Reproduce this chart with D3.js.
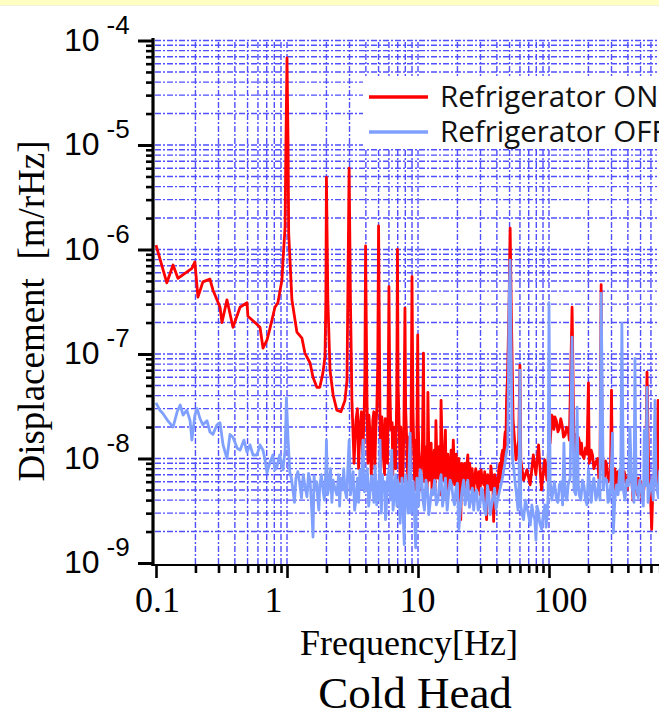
<!DOCTYPE html>
<html><head><meta charset="utf-8">
<script src="https://cdn.jsdelivr.net/npm/d3@7"></script>
<style>body{margin:0;background:#fff;} svg{display:block;}</style>
</head><body>
<svg id="c" width="659" height="718"></svg>
<script>
// ---- data (frequency [Hz], displacement [m/rHz]) ----
const refrigeratorOn = [
[0.1,1.1e-6],[0.121,4.8e-7],[0.135,7.1e-7],[0.147,5.3e-7],[0.188,6.6e-7],[0.198,7.6e-7],
[0.209,3.5e-7],[0.228,4.9e-7],[0.258,5.2e-7],[0.272,4.1e-7],[0.292,3.3e-7],[0.308,2.8e-7],
[0.319,2.0e-7],[0.348,3.3e-7],[0.387,1.8e-7],[0.438,2.8e-7],[0.495,3.1e-7],[0.503,2.3e-7],
[0.569,2.0e-7],[0.622,1.8e-7],[0.656,1.14e-7],[0.703,1.36e-7],[0.742,1.77e-7],[0.809,2.8e-7],
[0.852,3.1e-7],[0.915,5.1e-7],[0.932,7.9e-7],[0.967,1.64e-6],[0.98,8.9e-6],[1.0,6.8e-5],
[1.02,8.9e-6],[1.03,1.44e-6],[1.09,3.3e-7],[1.19,1.62e-7],[1.30,1.42e-7],[1.37,1.02e-7],
[1.50,8.2e-8],[1.58,6.0e-8],[1.69,4.8e-8],[1.78,4.8e-8],[1.88,6.6e-8],[1.95,9.4e-8],
[1.98,3.3e-7],[2.0,4.9e-6],[2.05,3.3e-7],[2.13,7.0e-8],[2.25,4.05e-8],[2.40,2.9e-8],
[2.58,2.8e-8],[2.77,3.6e-8],[2.87,5.6e-8],[2.98,6.0e-6],[3.05,3.3e-7],[3.13,3.6e-8],
[3.36,2.33e-8],[3.6,1.96e-8],[3.87,2.33e-8],[3.98,1.08e-6],[4.08,3.6e-8],[4.29,1.87e-8],
[4.52,2.33e-8],[4.76,1.87e-8],[5.0,1.68e-6],[5.13,2.33e-8],[5.42,1.5e-8],[5.72,2.09e-8],
[6.0,4.4e-7],[6.2,1.87e-8],[6.5,1.5e-8],[6.97,1.0e-6],[7.2,1.87e-8],[7.5,1.35e-8],
[7.95,2.75e-7],[8.2,1.5e-8],[8.6,1.2e-8],[9.0,5.5e-7],[9.3,1.2e-8],[9.95,1.52e-7],
[10.2,1.08e-8],[10.6,7.8e-9],[11.0,1.02e-7],[11.4,7.8e-9],[11.9,4.3e-8],[12.3,6.2e-9],
[13.0,7.0e-9],[13.7,2.3e-8],[14.2,6.5e-9],[15.0,3.6e-8],[15.6,6.2e-9],[16.2,1.87e-8],
[16.7,4.0e-9],[17.6,7.8e-9],[18.6,1.5e-8],[19.2,5.6e-9],[20.1,9.7e-9],[21.2,2.6e-9],
[22.0,8.7e-9],[23.2,6.2e-9],[24.0,1.08e-8],[25.4,5.2e-9],[27.1,6.5e-9],[28.7,5.0e-9],
[30.3,7.8e-9],[31.8,5.6e-9],[33.4,2.6e-9],[34.8,6.2e-9],[36.5,7.0e-9],[37.8,2.5e-9],
[39.3,5.2e-9],[41.3,7.8e-9],[43.5,1.08e-8],[45.7,1.5e-8],[47.4,3.6e-8],[49.6,3.3e-7],
[50.5,1.6e-6],[51.4,3.3e-7],[53.2,2.33e-8],[56,9.7e-9],[58.7,1.5e-8],[60,7.8e-8],
[60.9,9.7e-9],[64,6.2e-9],[67.9,7.8e-9],[71.8,5.6e-9],[75.9,1.08e-8],[79.4,7.0e-9],
[83.2,1.35e-8],[87.6,5.0e-9],[92.7,9.7e-9],[96.6,6.2e-9],[100,1.5e-8],[104,2.09e-8],
[107.6,2.44e-8],[114,2.27e-8],[120,1.96e-8],[126,2.09e-8],[133,1.68e-8],[140,1.87e-8],
[150,2.8e-7],[155,1.5e-8],[164,1.35e-8],[170,1.5e-8],[180,1.08e-8],[190,1.26e-8],
[200,5.3e-8],[206,9.7e-9],[215,1.08e-8],[228,9.2e-9],[245,7.8e-9],[250,4.6e-7],
[260,7.8e-9],[276,8.7e-9],[290,6.5e-9],[300,4.5e-8],[310,7.8e-9],[328,6.2e-9],
[346,7.0e-9],[365,5.6e-9],[385,6.5e-9],[417,6.0e-9],[438,4.0e-9],[460,6.2e-9],
[493,5.2e-9],[513,4.0e-9],[534,5.6e-9],[560,6.7e-8],[580,5.0e-9],[608,2.1e-9],
[640,7.8e-9],[680,3.6e-8],[700,6.0e-9]
];
// finer structure of the ON spectrum between the main lines
const refrigeratorOnDetail = [
[3.25,9e-9],[3.45,3.0e-8],[3.52,8e-9],[3.7,2.8e-8],[3.78,1.0e-8],[3.93,6e-8],
[4.15,9e-9],[4.22,2.6e-8],[4.4,7e-9],[4.6,2.8e-8],[4.68,8e-9],[4.85,3e-8],[4.93,8e-8],
[5.2,8e-9],[5.3,2.5e-8],[5.55,7e-9],[5.62,2.4e-8],[5.85,9e-9],[5.93,5e-8],[6.08,6e-8],
[6.35,2.2e-8],[6.42,7e-9],[6.65,2.0e-8],[6.75,8e-9],[6.88,4e-8],[7.05,5e-8],[7.3,6e-9],
[7.4,2.0e-8],[7.65,6e-9],[7.8,1.8e-8],[8.05,3e-8],[8.35,6e-9],[8.45,1.6e-8],[8.75,6e-9],
[8.85,2e-8],[9.15,3e-8],[9.45,5e-9],[9.6,1.5e-8],[9.75,6e-9],[10.05,2e-8],[10.4,5e-9],
[10.8,1.2e-8],[11.2,6e-9],[11.6,1.3e-8],[11.75,5e-9],[12.1,1.1e-8],[12.6,1.4e-8],[12.8,4.5e-9],
[13.3,1.2e-8],[13.5,5e-9],[13.9,1.1e-8],[14.5,1.3e-8],[14.8,4.5e-9],[15.3,1.2e-8],[15.9,1.0e-8],
[16.4,5e-9],[16.9,1.1e-8],[17.2,5e-9],[17.9,1.2e-8],[18.2,5.5e-9],[18.9,8e-9],[19.6,1.1e-8],
[19.9,4e-9],[20.5,1.0e-8],[20.8,5e-9],[21.6,9e-9],[22.5,4.5e-9],[22.8,9e-9],[23.6,8.5e-9],
[24.4,5e-9],[24.8,9e-9],[25.9,8e-9],[26.5,4.5e-9],[27.6,8e-9],[28.2,6e-9],[29.2,7.5e-9],
[29.8,4.5e-9],[30.8,6.5e-9],[32.3,7.5e-9],[32.8,4e-9],[34.0,7e-9],[35.5,5e-9],[36.0,8.5e-9],
[37.2,6e-9],[38.5,7e-9],[40.0,6.5e-9],[40.6,4.5e-9],[42.2,9e-9],[42.8,6e-9],[44.3,1.2e-8],
[44.8,8e-9],[46.3,1.8e-8],[46.8,1.2e-8],[48.2,6e-8],[48.8,1.2e-7],
[102,1.4e-8],[105,2.6e-8],[109,1.9e-8],[111,2.5e-8],[117,1.8e-8],[123,2.4e-8],[129,1.6e-8],
[136,2.0e-8],[143,1.5e-8],[158,1.7e-8],[161,1.1e-8],[167,1.6e-8],[174,1.1e-8],[177,1.4e-8],
[185,1.0e-8],[195,1.1e-8],[203,9e-9],[210,1.2e-8],[220,8e-9],[235,1.0e-8],[240,6.5e-9],
[255,9e-9],[265,6.5e-9],[270,9.5e-9],[283,6e-9],[295,8e-9],[305,6e-9],[318,8e-9],[322,5e-9],
[335,7.5e-9],[340,5e-9],[355,7e-9],[375,7.5e-9],[395,5e-9],[405,7e-9],[428,6.5e-9],
[448,6.8e-9],[470,4.5e-9],[480,6.5e-9],[503,6e-9],[524,4.5e-9],[545,6e-9],[590,6e-9],
[620,5e-9],[660,5.5e-9]
];
const refrigeratorOff = [
[0.1,3.4e-8],[0.107,2.9e-8],[0.113,2.7e-8],[0.123,2.3e-8],[0.135,2.0e-8],[0.145,2.8e-8],
[0.153,3.25e-8],[0.161,2.6e-8],[0.172,2.9e-8],[0.182,2.3e-8],[0.188,1.5e-8],[0.198,2.6e-8],
[0.206,3.0e-8],[0.217,2.4e-8],[0.228,2.1e-8],[0.245,2.3e-8],[0.258,1.8e-8],[0.272,1.7e-8],
[0.292,2.1e-8],[0.308,2.2e-8],[0.325,1.35e-8],[0.348,1.0e-8],[0.367,1.7e-8],[0.387,1.6e-8],
[0.416,1.26e-8],[0.438,1.2e-8],[0.469,1.5e-8],[0.495,1.15e-8],[0.522,1.35e-8],[0.55,1.08e-8],
[0.59,1.08e-8],[0.622,1.35e-8],[0.656,1.2e-8],[0.68,9.7e-9],[0.703,7.3e-9],[0.742,9.2e-9],
[0.78,1.08e-8],[0.81,7.8e-9],[0.837,8.3e-9],[0.88,1.08e-8],[0.93,7.8e-9],[0.967,1.2e-8],
[0.99,3.8e-8],[1.02,1.5e-8],[1.05,7.4e-9],[1.11,5.0e-9],[1.17,6.5e-9],[1.25,5.8e-9],
[1.33,7.0e-9],[1.42,4.3e-9],[1.50,6.2e-9],[1.58,1.77e-9],[1.64,5.0e-9],[1.72,4.0e-9],
[1.78,5.6e-9],[1.88,5.0e-9],[1.98,7.8e-9],[2.0,1.5e-8],[2.09,5.3e-9],[2.25,6.2e-9],
[2.40,4.5e-9],[2.58,6.5e-9],[2.77,5.0e-9],[2.98,1.5e-8],[3.13,5.6e-9],[3.36,4.0e-9],
[3.6,7.8e-9],[3.8,1.5e-8],[4.0,5.6e-9],[4.29,4.5e-9],[4.52,6.2e-9],[4.84,3.6e-9],
[5.13,1.5e-8],[5.42,5.0e-9],[5.72,3.2e-9],[6.0,7.8e-9],[6.3,1.2e-8],[6.6,4.5e-9],
[7.0,6.2e-9],[7.4,4.0e-9],[7.85,1.5e-9],[8.2,4.5e-9],[8.7,1.75e-8],[9.0,3.6e-9],
[9.6,1.4e-9],[9.9,5.6e-9],[10.4,7.8e-9],[10.9,4.0e-9],[11.5,6.2e-9],[12.1,2.9e-9],
[12.7,5.0e-9],[13.4,6.2e-9],[14.2,4.0e-9],[15.0,7.0e-9],[15.8,4.5e-9],[16.7,3.2e-9],
[17.6,6.2e-9],[18.6,4.0e-9],[19.5,5.2e-9],[20.5,2.1e-9],[21.7,5.0e-9],[22.9,3.6e-9],
[24.0,6.2e-9],[25.4,4.2e-9],[26.6,3.2e-9],[28.0,5.0e-9],[29.7,3.6e-9],[31.2,4.8e-9],
[33.0,2.9e-9],[34.8,4.5e-9],[36.5,3.6e-9],[38.4,5.2e-9],[40.5,4.0e-9],[43.0,5.6e-9],
[45.2,7.8e-9],[47.0,1.08e-8],[48.5,1.35e-8],[49.6,3.3e-7],[50.5,7.9e-7],[51.4,1.09e-7],
[52.4,1.2e-8],[54.0,7.8e-9],[56,5.0e-9],[58,3.2e-9],[60,7.0e-8],[60.9,3.6e-9],
[64,2.6e-9],[68,3.4e-9],[72,2.3e-9],[76,2.9e-9],[79.5,1.66e-9],[83,3.1e-9],
[88,2.1e-9],[93,3.6e-9],[97,2.9e-9],[100,3.1e-7],[102,6.2e-9],[107.6,5.0e-9],
[114,4.0e-9],[120,5.6e-9],[130,1.4e-8],[133,4.5e-9],[140,5.6e-9],[150,1.45e-7],
[155,5.0e-9],[164,3.1e-8],[170,4.5e-9],[180,6.2e-9],[190,4.0e-9],[200,7.8e-9],
[206,5.0e-9],[215,5.6e-9],[228,4.0e-9],[240,6.2e-9],[250,3.8e-7],[260,5.0e-9],
[276,6.2e-9],[290,4.0e-9],[305,1.75e-8],[310,1.94e-9],[328,5.6e-9],[346,7.8e-9],
[360,1.98e-7],[370,5.0e-9],[393,6.2e-9],[415,2.0e-8],[438,4.5e-9],[453,9.1e-8],
[470,5.0e-9],[493,6.2e-9],[517,4.0e-9],[534,1.87e-8],[560,4.8e-8],[580,4.5e-9],
[608,6.2e-9],[644,3.6e-8],[668,5.0e-9],[700,7.8e-9]
];
// finer structure of the OFF spectrum (noise floor)
const refrigeratorOffDetail = [
[1.08,6.5e-9],[1.14,3.8e-9],[1.21,7.5e-9],[1.29,4.2e-9],[1.37,5.5e-9],[1.46,7.2e-9],[1.54,3.5e-9],
[1.61,6.8e-9],[1.68,6e-9],[1.75,3.2e-9],[1.83,7e-9],[1.93,4e-9],[2.04,4.5e-9],[2.15,8e-9],
[2.2,3.8e-9],[2.32,5.2e-9],[2.48,7e-9],[2.52,3.5e-9],[2.66,5e-9],[2.71,8e-9],[2.85,4.2e-9],
[3.05,4.5e-9],[3.2,7.5e-9],[3.28,3.2e-9],[3.45,6.5e-9],[3.52,3.8e-9],[3.7,5.2e-9],[3.9,4.8e-9],
[4.1,8e-9],[4.2,3.5e-9],[4.4,6.8e-9],[4.6,3.8e-9],[4.7,8.5e-9],[4.95,6e-9],[5.05,4e-9],
[5.25,3e-9],[5.35,7e-9],[5.55,6e-9],[5.65,2.6e-9],[5.85,6.5e-9],[6.15,4e-9],[6.45,3.2e-9],
[6.75,7e-9],[6.9,3.5e-9],[7.15,5.5e-9],[7.3,2.4e-9],[7.55,6.5e-9],[7.7,3e-9],[8.0,7e-9],
[8.4,3e-9],[8.5,6.5e-9],[8.85,3e-9],[9.2,6e-9],[9.45,2.5e-9],[9.8,6.5e-9],[10.1,3.5e-9],
[10.7,6.5e-9],[11.2,3.2e-9],[11.8,5.2e-9],[12.4,3.8e-9],[13.0,4.5e-9],[13.8,3.6e-9],[14.6,5.8e-9],
[15.4,3.5e-9],[16.2,6.5e-9],[17.1,4.5e-9],[18.1,5.5e-9],[19.0,3.6e-9],[20.0,5.8e-9],[21.1,3.4e-9],
[22.3,6.2e-9],[23.5,4.5e-9],[24.7,3.4e-9],[26.0,5.2e-9],[27.3,4.6e-9],[28.8,3.2e-9],[30.5,5.2e-9],
[32.0,3.3e-9],[33.9,5.5e-9],[35.6,2.9e-9],[37.4,4.2e-9],[39.4,3.3e-9],[41.8,4.8e-9],[44.1,6.5e-9],
[46.1,9e-9],[53,9e-9],[55,6e-9],[57,4e-9],[59,5e-9],[62,3e-9],[66,4e-9],[70,2.8e-9],[74,3.6e-9],
[78,2.6e-9],[81,3.5e-9],[85,2.4e-9],[90,2.8e-9],[95,2.2e-9],[98.5,4.5e-9],[105,4e-9],[110,6e-9],
[117,3.8e-9],[124,6e-9],[127,3.6e-9],[137,4e-9],[145,6.5e-9],[160,4.5e-9],[167,6e-9],[175,4e-9],
[185,5.5e-9],[195,3.6e-9],[210,3.8e-9],[220,6.5e-9],[233,4.5e-9],[245,4e-9],[265,6.5e-9],
[282,3.8e-9],[297,6e-9],[318,4e-9],[337,4.5e-9],[352,5e-9],[380,4e-9],[404,5.5e-9],[426,6e-9],
[445,3.8e-9],[462,5.6e-9],[480,4.2e-9],[505,5.2e-9],[525,3.5e-9],[548,5.5e-9],[570,3.8e-9],
[595,5.5e-9],[625,4e-9],[655,6e-9],[685,4.2e-9]
];
const seriesNames = ["Refrigerator ON", "Refrigerator OFF"];
const seriesColors = ["#ff0000", "#80a0ff"];
const xTickValues = [0.1, 1, 10, 100];
const xTickLabels = ["0.1", "1", "10", "100"];
const yTickValues = [1e-4, 1e-5, 1e-6, 1e-7, 1e-8, 1e-9];
const yTickExponents = ["-4", "-5", "-6", "-7", "-8", "-9"];
const xTitle = "Frequency[Hz]";
const yTitle = "Displacement  [m/rHz]";
const caption = "Cold Head";

const series = [
  refrigeratorOn.concat(refrigeratorOnDetail).sort((a, b) => a[0] - b[0]),
  refrigeratorOff.concat(refrigeratorOffDetail).sort((a, b) => a[0] - b[0])
];

// ---- layout ----
const svg = d3.select("#c");
const x = d3.scaleLog().domain([0.1, 1000]).range([156, 680]);
const y = d3.scaleLog().domain([1e-9, 1e-4]).range([563, 40.5]);
const axisX = 153, axisY = 565;

svg.append("rect").attr("x",0).attr("y",0).attr("width",659).attr("height",5).attr("fill","#ffffc4");
svg.append("line").attr("x1",0).attr("x2",659).attr("y1",5.5).attr("y2",5.5).attr("stroke","#f2f2d8").attr("stroke-width",1);

svg.append("defs").append("clipPath").attr("id","plot")
  .append("rect").attr("x",axisX+1).attr("y",38).attr("width",520).attr("height",axisY-38);

// grid
const grid = svg.append("g").attr("stroke","#5050ff").attr("stroke-width",1.4)
  .attr("stroke-dasharray","6,2,2,2").attr("fill","none");
const gx = x.ticks().filter(v => v > 0.1 && v <= 1000);
const gy = y.ticks().filter(v => v > 1e-9 && v <= 1e-4 * 1.0001);
grid.selectAll("line.v").data(gx).join("line").attr("class","v")
  .attr("x1", d => x(d)).attr("x2", d => x(d)).attr("y1", 42).attr("y2", axisY);
grid.selectAll("line.h").data(gy).join("line").attr("class","h")
  .attr("y1", d => y(d)).attr("y2", d => y(d)).attr("x1", axisX + 2).attr("x2", 680);

// legend box (covers grid)
svg.append("rect").attr("x",363).attr("y",77).attr("width",300).attr("height",71).attr("fill","#fff");

// series
const line = d3.line().x(d => x(d[0])).y(d => y(d[1]));
const plot = svg.append("g").attr("clip-path","url(#plot)");
series.forEach((s, i) => {
  plot.append("path").datum(s).attr("d", line).attr("fill","none")
    .attr("stroke", seriesColors[i]).attr("stroke-width", 2.8).attr("stroke-linejoin","round");
});

// legend
const lg = svg.append("g");
seriesNames.forEach((n, i) => {
  const yy = 97 + i * 35;
  lg.append("line").attr("x1",369).attr("x2",428).attr("y1",yy).attr("y2",yy)
    .attr("stroke", seriesColors[i]).attr("stroke-width",3.5);
  lg.append("text").attr("x",440).attr("y",yy + 10).text(n)
    .attr("font-family","'Open Sans', 'Noto Sans', sans-serif").attr("font-size",29.5).attr("fill","#111");
});

// x axis
const xMinor = x.ticks().filter(v => !xTickValues.includes(v) && v < 1000);
const gxa = svg.append("g").attr("transform",`translate(0,${axisY})`);
gxa.call(d3.axisBottom(x).tickValues(xMinor).tickSize(8).tickSizeOuter(0).tickFormat(""));
gxa.select(".domain").remove();
gxa.selectAll(".tick line").attr("stroke","#000").attr("stroke-width",2.6);
const gxb = svg.append("g").attr("transform",`translate(0,${axisY})`);
const xLabelShift = [1, -14, -1, 11];
gxb.call(d3.axisBottom(x).tickValues(xTickValues).tickSize(13).tickSizeOuter(0)
  .tickFormat((d, i) => xTickLabels[i]));
gxb.select(".domain").remove();
gxb.selectAll(".tick line").attr("stroke","#000").attr("stroke-width",2.6);
gxb.selectAll(".tick text").attr("fill","#000").attr("font-family","'Liberation Serif', 'Times New Roman', serif")
  .attr("font-size",36).attr("dy",0).attr("y",47).attr("dx",(d,i)=>xLabelShift[i]);
svg.append("line").attr("x1",axisX-1.5).attr("x2",680).attr("y1",axisY).attr("y2",axisY)
  .attr("stroke","#000").attr("stroke-width",2.2);

// y axis
const yMinor = y.ticks().filter(v => !yTickValues.some(t => Math.abs(t - v) / t < 1e-6));
const gya = svg.append("g").attr("transform",`translate(${axisX},0)`);
gya.call(d3.axisLeft(y).tickValues(yMinor).tickSize(7).tickSizeOuter(0).tickFormat(""));
gya.select(".domain").remove();
gya.selectAll(".tick line").attr("stroke","#000").attr("stroke-width",2.6);
const gyb = svg.append("g").attr("transform",`translate(${axisX},0)`);
gyb.call(d3.axisLeft(y).tickValues(yTickValues).tickSize(15).tickSizeOuter(0).tickFormat(""));
gyb.select(".domain").remove();
gyb.selectAll(".tick line").attr("stroke","#000").attr("stroke-width",3);
svg.append("line").attr("x1",axisX).attr("x2",axisX).attr("y1",38).attr("y2",axisY+1)
  .attr("stroke","#000").attr("stroke-width",3.2);

// y tick labels: 10^n
yTickValues.forEach((v, i) => {
  const t = svg.append("text").attr("x",64).attr("y", y(v) + 10)
    .attr("font-family","'Liberation Sans', Arial, sans-serif").attr("fill","#000");
  t.append("tspan").attr("font-size",32).text("10");
  t.append("tspan").attr("font-size",26).attr("dx",7).attr("dy",-17).text(yTickExponents[i]);
});

// titles
svg.append("text").attr("x",409).attr("y",655).attr("text-anchor","middle")
  .attr("font-family","'Liberation Serif', 'Times New Roman', serif").attr("font-size",36).text(xTitle);
svg.append("text").attr("transform","translate(44,311) rotate(-90)").attr("text-anchor","middle")
  .attr("font-family","'Liberation Serif', 'Times New Roman', serif").attr("font-size",37)
  .attr("xml:space","preserve").style("white-space","pre").text(yTitle);
svg.append("text").attr("x",415).attr("y",708).attr("text-anchor","middle")
  .attr("font-family","'Liberation Serif', 'Times New Roman', serif").attr("font-size",45).text(caption);
</script>
</body></html>
